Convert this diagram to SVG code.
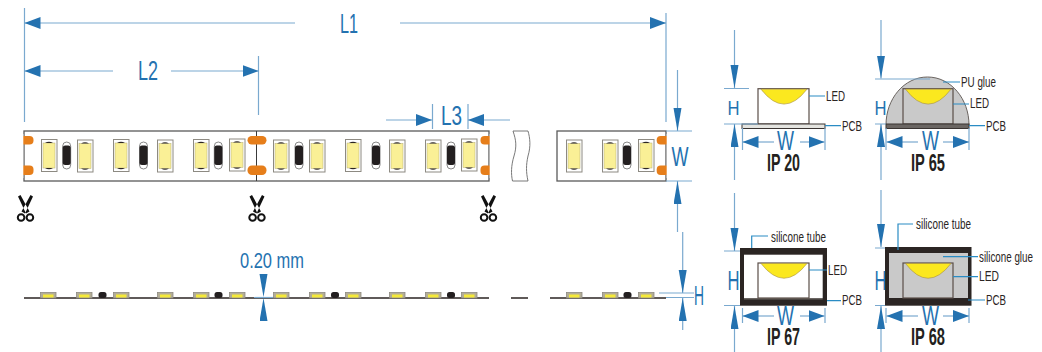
<svg xmlns="http://www.w3.org/2000/svg" width="1042" height="352" viewBox="0 0 1042 352">
<style>
text{font-family:"Liberation Sans Narrow","Liberation Sans",Arial,sans-serif}
.dim{fill:#2472b0;font-size:27px}
.dimh{fill:#2472b0;font-size:21px}
.dims{fill:#2472b0;font-size:22px}
.lab{fill:#2b2523;font-size:15px}
.ip{fill:#231f20;font-size:24px;font-weight:bold}
.th{fill:none;stroke:#7aa9cf;stroke-width:1.2}
.ld{fill:none;stroke:#2a8cc4;stroke-width:1.2}
.h{marker-end:url(#ah)}
.v{marker-end:url(#av)}
.strip{fill:#fff;stroke:#5a5a5a;stroke-width:1.3}
.pad{fill:#e67e1a}
.pcb{stroke:#3a3432;stroke-width:1}
.body{stroke:#5b4f49;stroke-width:1.2}
.tube{fill:#2b2523}
.glue{fill:#c9c9c9}
.yel{fill:#fbe81f;stroke:#a8913a;stroke-width:.6}
.side{stroke:#2b2523;stroke-width:1.3;fill:none}
</style>
<defs>
<marker id="ah" markerUnits="userSpaceOnUse" markerWidth="17" markerHeight="13" refX="16" refY="6" orient="auto"><path d="M0 0L16 6L0 12Z" fill="#2472b0"/></marker>
<marker id="av" markerUnits="userSpaceOnUse" markerWidth="24" markerHeight="9" refX="23" refY="4" orient="auto"><path d="M0 0L23 4L0 8Z" fill="#2472b0"/></marker>
<g id="led"><rect x=".5" y=".5" width="15.5" height="32" fill="#fff" stroke="#8d8a82" stroke-width="1"/><rect x="2" y="4" width="12" height="25" fill="#faf096" stroke="#b5ad74" stroke-width=".5"/><path d="M4 4Q8 1.500 12 4ZM4 29Q8 31.500 12 29Z" fill="#2b2523"/></g>
<g id="res"><rect x="-4" y="0" width="8" height="27" rx="4" fill="#fff" stroke="#6a6a6a" stroke-width=".8"/><rect x="-4" y="3.500" width="8" height="19.500" rx="2.500" fill="#231f20"/></g>
<g id="sled"><rect x=".5" y=".5" width="15.5" height="5.500" fill="#b4ae96" stroke="#8d8a82" stroke-width=".8"/><rect x="3" y="2.500" width="10.500" height="3" fill="#f5ea38"/></g>
<rect id="sres" x="-4" y="0" width="8" height="6" rx="2.500" fill="#231f20"/>
<g id="sc"><path d="M13 0L15.500 1.500L7.500 18.500L4 16.500ZM3 0L.5 1.500L8.500 18.500L12 16.500Z" fill="#111"/><circle cx="3.600" cy="22.500" r="3.300" fill="none" stroke="#111" stroke-width="2"/><circle cx="12.400" cy="22.500" r="3.300" fill="none" stroke="#111" stroke-width="2"/></g>
</defs>

<g id="strip-top">
<rect class="strip" x="24" y="131" width="465" height="50"/>
<path d="M256.500 131V181" stroke="#3a3a3a" stroke-width="1"/>
<rect class="pad" x="20" y="136" width="13.500" height="8.500" rx="4"/><rect class="pad" x="20" y="165.500" width="13.500" height="9.500" rx="4"/>
<rect x="18" y="134" width="5.300" height="44" fill="#fff"/>
<rect class="pad" x="247.500" y="136" width="19" height="8.500" rx="4.200"/><rect class="pad" x="247.500" y="165.500" width="19" height="9.500" rx="4.500"/>
<rect class="pad" x="480.500" y="136" width="13" height="8.500" rx="4"/><rect class="pad" x="480.500" y="165.500" width="13" height="9.500" rx="4"/>
<rect x="489.700" y="134" width="6" height="44" fill="#fff"/>
<use href="#led" x="41" y="139"/><use href="#res" x="66.700" y="142"/><use href="#led" x="77" y="139.500"/>
<use href="#led" x="113" y="139"/><use href="#res" x="143.500" y="142"/><use href="#led" x="157" y="139.500"/>
<use href="#led" x="193" y="139"/><use href="#res" x="218.300" y="142"/><use href="#led" x="229" y="138.500"/>
<use href="#led" x="273" y="139.500"/><use href="#res" x="299" y="142"/><use href="#led" x="309" y="139.500"/>
<use href="#led" x="345" y="139"/><use href="#res" x="376" y="142"/><use href="#led" x="389" y="139.500"/>
<use href="#led" x="425" y="139.500"/><use href="#res" x="451" y="142"/><use href="#led" x="461" y="138.500"/>
</g>
<g id="strip-break"><path d="M513 131C516 140 517 146 514 156C511 166 511 174 512.500 181H528C526 172 526 165 528 156C531 146 530 138 528 131Z" fill="#fff" stroke="#6a6a6a" stroke-width=".9"/></g>
<g id="strip-end">
<rect class="strip" x="557" y="131" width="109" height="50"/>
<rect class="pad" x="656.700" y="136" width="13" height="8.500" rx="4"/><rect class="pad" x="656.700" y="165.500" width="13" height="9.500" rx="4"/>
<rect x="666.700" y="134" width="6" height="44" fill="#fff"/>
<use href="#led" x="566" y="139.500"/><use href="#led" x="602" y="139.500"/><use href="#res" x="627" y="142"/><use href="#led" x="638" y="139"/>
</g>
<g id="cut-marks"><use href="#sc" x="17.500" y="195"/><use href="#sc" x="249" y="195"/><use href="#sc" x="480.500" y="195"/></g>

<g id="strip-side">
<path class="side" d="M24 298H489M511 298H528M550 298H666"/>
<use href="#sled" x="40" y="292"/><use href="#sled" x="76" y="292"/><use href="#sres" x="102.500" y="292"/><use href="#sled" x="113" y="292"/>
<use href="#sled" x="157" y="292"/><use href="#sled" x="193" y="292"/><use href="#sres" x="218.500" y="292"/><use href="#sled" x="229" y="292"/>
<use href="#sled" x="273" y="292"/><use href="#sled" x="309" y="292"/><use href="#sres" x="335" y="292"/><use href="#sled" x="345" y="292"/>
<use href="#sled" x="389" y="292"/><use href="#sled" x="425" y="292"/><use href="#sres" x="451" y="292"/><use href="#sled" x="461" y="292"/>
<use href="#sled" x="566" y="292"/><use href="#sled" x="602" y="292"/><use href="#sres" x="627.500" y="292"/><use href="#sled" x="638" y="292"/>
</g>

<g id="ip20">
<rect x="758" y="88.700" width="51" height="35.300" fill="#fff" class="body"/>
<path class="yel" d="M761 89.200Q784 119 807 89.200Z"/>
<rect x="742" y="124" width="83" height="4.500" fill="#e4e4e0" class="pcb"/>
<text class="lab" x="826" y="100.500" textLength="19" lengthAdjust="spacingAndGlyphs">LED</text>
<text class="lab" x="842" y="130.500" textLength="20" lengthAdjust="spacingAndGlyphs">PCB</text>
<text class="ip" x="767" y="171" textLength="33" lengthAdjust="spacingAndGlyphs">IP 20</text>
</g>
<g id="ip65">
<path d="M886 125C886 99 904 77 927.500 77C951 77 969 99 969 125Z" class="glue" stroke="#6a6460" stroke-width="1"/>
<rect x="903" y="88.700" width="50" height="35.300" fill="none" class="body"/>
<path class="yel" d="M905.500 89.200Q928 119 951 89.200Z"/>
<rect x="886" y="124" width="83" height="4.500" fill="#6b6663" class="pcb"/>
<text class="lab" x="961" y="87" textLength="35" lengthAdjust="spacingAndGlyphs">PU glue</text>
<text class="lab" x="970" y="108" textLength="19" lengthAdjust="spacingAndGlyphs">LED</text>
<text class="lab" x="986" y="130.500" textLength="20" lengthAdjust="spacingAndGlyphs">PCB</text>
<text class="ip" x="911" y="171" textLength="34" lengthAdjust="spacingAndGlyphs">IP 65</text>
</g>
<g id="ip67">
<rect x="740" y="248" width="87" height="57.700" class="tube"/>
<rect x="744" y="254.700" width="78.700" height="43.300" fill="#fff"/>
<rect x="744" y="298" width="78.700" height="1.500" fill="#6b6663"/>
<rect x="758" y="263" width="51" height="35" fill="#fff" class="body"/>
<path class="yel" d="M761 263.500Q784 293 807 263.500Z"/>
<text class="lab" x="771" y="241.500" textLength="55" lengthAdjust="spacingAndGlyphs">silicone tube</text>
<text class="lab" x="828" y="274.700" textLength="19" lengthAdjust="spacingAndGlyphs">LED</text>
<text class="lab" x="842" y="305" textLength="20" lengthAdjust="spacingAndGlyphs">PCB</text>
<text class="ip" x="767" y="345" textLength="33" lengthAdjust="spacingAndGlyphs">IP 67</text>
</g>
<g id="ip68">
<rect x="885" y="247" width="86.500" height="58.700" class="tube"/>
<rect x="889" y="253" width="79" height="45" class="glue"/>
<rect x="903" y="263" width="50" height="35" fill="none" class="body"/>
<path class="yel" d="M905.500 263.500Q928 293 951 263.500Z"/>
<text class="lab" x="916" y="229" textLength="55" lengthAdjust="spacingAndGlyphs">silicone tube</text>
<text class="lab" style="font-family:'Liberation Sans',Arial,sans-serif" transform="translate(979 261.700) scale(.654 1)">silicone glue</text>
<text class="lab" x="979" y="281" textLength="20" lengthAdjust="spacingAndGlyphs">LED</text>
<text class="lab" x="986" y="304.500" textLength="20" lengthAdjust="spacingAndGlyphs">PCB</text>
<text class="ip" x="911" y="345" textLength="34" lengthAdjust="spacingAndGlyphs">IP 68</text>
</g>

<g id="connectors">
<path class="th" d="M24.500 8V122M258.500 56V115M666 13V122M432.500 104V129M468 104V129M666 131H692M666 181H692M659 293H694M666 297.500H694"/>
<path class="th h" d="M295 23H24.500"/><path class="th h" d="M400 23H666"/>
<path class="th h" d="M113 71H24.500"/><path class="th h" d="M171 71H258.500"/>
<path class="th h" d="M386 120H432"/><path class="th h" d="M510 120H468"/>
<path class="th v" d="M677.500 70V131"/><path class="th v" d="M677.500 232V181"/>
<path class="th v" d="M682.700 232V293"/><path class="th v" d="M682.700 330V298"/>
<path class="v" d="M263.500 255V297"/><path class="v" d="M263.500 340V298"/>
<path class="th" d="M254 297.500H273"/>

<path class="th" d="M724 88.500H749M724 124H758M742.500 128V150M825 128V150M875 79H930M875 124H886M886 128V150M969 128V150"/>
<path class="th v" d="M734.500 30V88"/><path class="th v" d="M734.500 180V124"/>
<path class="th v" d="M881 20V78.500"/><path class="th v" d="M881 180V124"/>
<path class="th h" d="M774 142H742.500"/><path class="th h" d="M800 142H824.500"/>
<path class="th h" d="M918 142H886.500"/><path class="th h" d="M943 142H969"/>

<path class="th" d="M724 251H740M724 305.500H740M742.500 308V323M825 308V323M875 248H885M875 305.500H885M886 308V323M969 308V323"/>
<path class="th v" d="M734.500 193V251"/><path class="th v" d="M734.500 352V306"/>
<path class="th v" d="M881 190V247"/><path class="th v" d="M881 352V306"/>
<path class="th h" d="M774 316H742.500"/><path class="th h" d="M800 316H824.500"/>
<path class="th h" d="M918 316H886.500"/><path class="th h" d="M943 316H969"/>

<path class="ld" d="M809 96H825M825 125.700H841M943 82H960M953 104H969M969 125.700H985"/>
<path class="ld" d="M751.700 248V236H768M809 270H827M827 300.700H841"/>
<path class="ld" d="M898 250V224H913M943 256.700H978M953 276.700H978M968 300H985"/>

<text class="dim" x="340" y="33" textLength="18" lengthAdjust="spacingAndGlyphs">L1</text>
<text class="dim" x="138" y="80" textLength="20" lengthAdjust="spacingAndGlyphs">L2</text>
<text class="dim" x="441" y="125" textLength="21" lengthAdjust="spacingAndGlyphs">L3</text>
<text class="dim" x="671.500" y="166" textLength="17" lengthAdjust="spacingAndGlyphs">W</text>
<text class="dim" x="694" y="305" textLength="10" lengthAdjust="spacingAndGlyphs">H</text>
<text class="dims" x="240" y="268" textLength="64" lengthAdjust="spacingAndGlyphs">0.20 mm</text>
<text class="dimh" x="727.500" y="115" textLength="12" lengthAdjust="spacingAndGlyphs">H</text>
<text class="dimh" x="874.500" y="115" textLength="12" lengthAdjust="spacingAndGlyphs">H</text>
<text class="dim" x="727.500" y="290" textLength="12" lengthAdjust="spacingAndGlyphs">H</text>
<text class="dim" x="874.500" y="290" textLength="12" lengthAdjust="spacingAndGlyphs">H</text>
<text class="dim" x="777" y="150" textLength="17" lengthAdjust="spacingAndGlyphs">W</text>
<text class="dim" x="922" y="150" textLength="17" lengthAdjust="spacingAndGlyphs">W</text>
<text class="dim" x="777" y="325" textLength="17" lengthAdjust="spacingAndGlyphs">W</text>
<text class="dim" x="922" y="325" textLength="17" lengthAdjust="spacingAndGlyphs">W</text>
</g>
</svg>
